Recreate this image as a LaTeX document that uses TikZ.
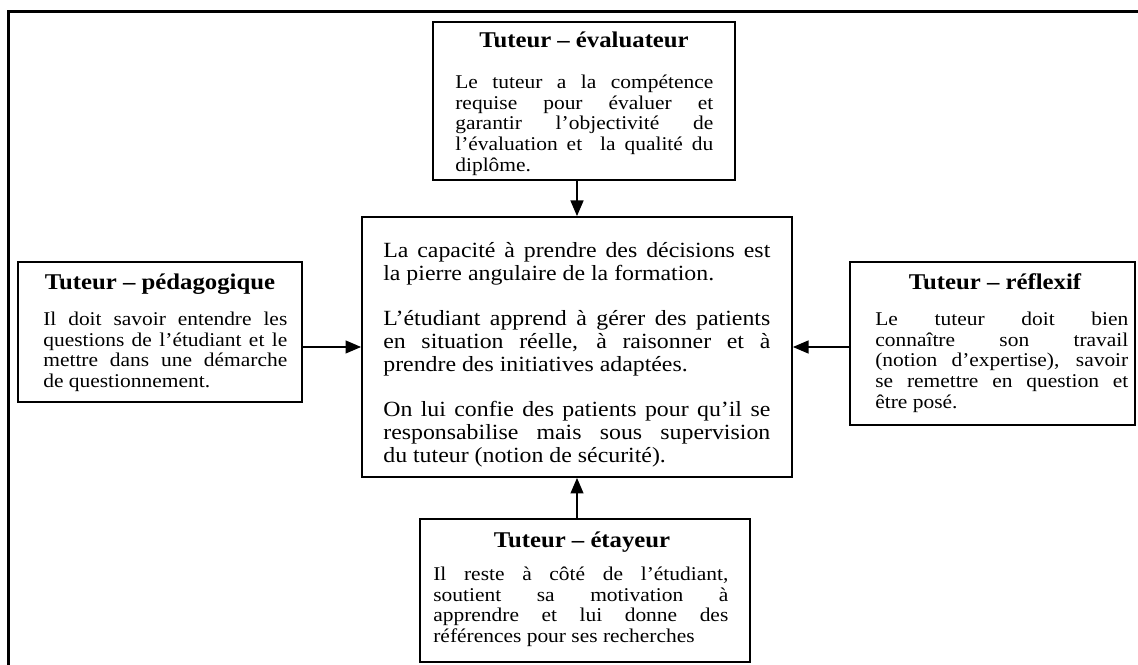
\documentclass[tikz,border=0pt]{standalone}
\usepackage{fontspec}
\setmainfont{Liberation Serif}[FakeStretch=1.1]
\usetikzlibrary{arrows.meta,positioning}
\hyphenpenalty=10000
\tolerance=10000
\hbadness=10000

\begin{document}
\begin{tikzpicture}[x=0.6pt, y=-0.6pt,
  frame/.style={draw, line width=1.8pt},
  box/.style={draw, line width=0.8pt, inner sep=0pt},
  head/.style={anchor=base, inner sep=0pt, font=\fontsize{13.5}{15}\selectfont\bfseries},
  body/.style={anchor=north west, inner sep=0pt, align=justify, font=\fontsize{11.7}{12.5}\selectfont},
  mid/.style={anchor=north west, inner sep=0pt, align=justify, font=\fontsize{13}{13.8}\selectfont},
  arr/.style={-{Triangle[length=9.5pt,width=7.5pt]}, line width=1.7pt}
]
\useasboundingbox (0,0) rectangle (1138,665);
\clip (0,0) rectangle (1138,665);
\draw[frame] (8,12) rectangle (1180,700);

% boxes
\node[box, minimum width=181.2pt, minimum height=94.8pt] (eval) at (584,101) {};
\node[box, minimum width=258pt, minimum height=156pt] (centre) at (577,347) {};
\node[box, minimum width=170.4pt, minimum height=84pt] (peda) at (160,332) {};
\node[box, minimum width=171pt, minimum height=97.8pt] (reflex) at (992.5,343.5) {};
\node[box, minimum width=198pt, minimum height=85.8pt] (etay) at (585,590.5) {};

% titles
\node[head] (evalhead) at (584,48) {Tuteur – évaluateur};
\node[head] (pedahead) at (160,290) {Tuteur – pédagogique};
\node[head] (reflexhead) at (995,290) {Tuteur – réflexif};
\node[head] (etayhead) at (582,548) {Tuteur – étayeur};

% texts
\node[body, text width=154.8pt] (evaltext) at (455,73.4) {\strut Le tuteur a la compétence\linebreak requise pour évaluer et\linebreak garantir l’objectivité de\linebreak l’évaluation et~ la qualité du\linebreak diplôme.};
\node[body, text width=146.4pt] (pedatext) at (43,310.4) {\strut Il doit savoir entendre les\linebreak questions de l’étudiant et le\linebreak mettre dans une démarche\linebreak de questionnement.};
\node[body, text width=151.8pt] (reflextext) at (875,310.4) {\strut Le tuteur doit bien\linebreak connaître son travail\linebreak (notion d’expertise), savoir\linebreak se remettre en question et\linebreak être posé.};
\node[body, text width=177pt] (etaytext) at (433,565.4) {\strut Il reste à côté de l’étudiant,\linebreak soutient sa motivation à\linebreak apprendre et lui donne des\linebreak références pour ses recherches};
\node[mid, text width=232.2pt] (centretext) at (383,241) {\setlength{\parskip}{13.2pt}\strut La capacité à prendre des décisions est\linebreak la pierre angulaire de la formation.\par
L’étudiant apprend à gérer des patients\linebreak en situation réelle, à raisonner et à\linebreak prendre des initiatives adaptées.\par
On lui confie des patients pour qu’il se\linebreak responsabilise mais sous supervision\linebreak du tuteur (notion de sécurité).};

% arrows
\draw[arr] (eval.south -| centre.north) -- (centre.north);
\draw[arr] (etay.north -| centre.south) -- (centre.south);
\draw[arr] (peda.east |- centre.west) -- (centre.west);
\draw[arr] (reflex.west |- centre.east) -- (centre.east);

\end{tikzpicture}
\end{document}
